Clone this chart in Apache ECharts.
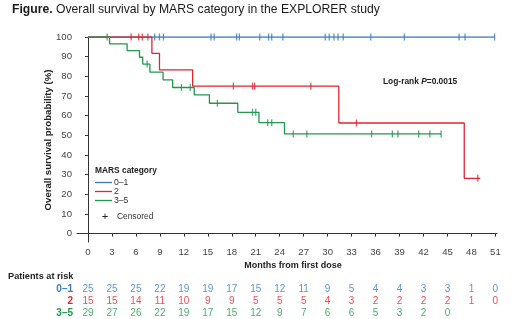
<!DOCTYPE html>
<html><head><meta charset="utf-8">
<script src="https://cdn.jsdelivr.net/npm/echarts@6/dist/echarts.min.js"></script>
<style>html,body{margin:0;padding:0;background:#fff}#c{width:520px;height:319px}</style>
</head><body><div id="c"></div>
<script>
const FONT = '"Liberation Sans", Arial, sans-serif';
const C_BLUE = '#3a7cc3', C_RED = '#e2242c', C_GREEN = '#21994c';

const groupNames = ['0–1', '2', '3–5'];
const xTicks = [0, 3, 6, 9, 12, 15, 18, 21, 24, 27, 30, 33, 36, 39, 42, 45, 48, 51];
const yTicks = [0, 10, 20, 30, 40, 50, 60, 70, 80, 90, 100];

// Kaplan–Meier curves: [month, survival %] (value after each drop)
const blueCurve = [[0, 100], [50.9, 100]];
const redCurve = [[0, 100], [8.0, 91.7], [8.95, 83.3], [13.1, 75], [31.4, 56.25], [47.1, 28.1], [49.1, 28.1]];
const greenCurve = [[0, 100], [2.7, 96.55], [4.9, 93.1], [6.45, 89.7], [6.85, 86.2], [7.75, 82.1], [9.4, 78.2],
  [10.6, 74.3], [13.3, 70.6], [15.2, 66.3], [18.75, 61.7], [21.4, 56.4], [24.6, 50.7], [44.2, 50.7]];

// Censored observations: [month, survival %]
const blueCensor = [[8.35, 100], [8.95, 100], [9.45, 100], [15.4, 100], [15.8, 100], [18.6, 100], [18.95, 100],
  [21.5, 100], [22.6, 100], [23.0, 100], [24.4, 100], [29.7, 100], [30.2, 100], [30.8, 100], [31.3, 100],
  [31.95, 100], [35.4, 100], [39.6, 100], [46.45, 100], [47.2, 100], [50.9, 100]];
const redCensor = [[5.4, 100], [6.35, 100], [6.8, 100], [7.5, 100], [18.2, 75], [20.6, 75], [20.85, 75],
  [27.9, 75], [33.6, 56.25], [48.8, 28.1]];
const greenCensor = [[2.4, 100], [7.4, 86.2], [11.7, 74.3], [12.8, 74.3], [16.2, 66.3], [20.6, 61.7], [21.0, 61.7],
  [22.5, 56.4], [23.0, 56.4], [25.7, 50.7], [27.4, 50.7], [35.5, 50.7], [38.1, 50.7], [38.8, 50.7],
  [41.4, 50.7], [42.8, 50.7], [44.2, 50.7]];

// Patients at risk at each x tick
const riskBlue = [25, 25, 25, 22, 19, 19, 17, 15, 12, 11, 9, 5, 4, 4, 3, 3, 1, 0];
const riskRed = [15, 15, 14, 11, 10, 9, 9, 5, 5, 5, 4, 3, 2, 2, 2, 2, 1, 0];
const riskGreen = [29, 27, 26, 22, 19, 17, 15, 12, 9, 7, 6, 6, 5, 3, 2, 0];

const colors = [C_BLUE, C_RED, C_GREEN];
const curves = [blueCurve, redCurve, greenCurve];
const censors = [blueCensor, redCensor, greenCensor];
const risks = [riskBlue, riskRed, riskGreen];

const X_MIN = -1.375, X_MAX = 51.2, Y_MIN = -4.3, Y_MAX = 100;

const series = [];
curves.forEach((d, i) => series.push({
  type: 'line', name: groupNames[i], xAxisIndex: 0, yAxisIndex: 0, step: 'end', data: d,
  showSymbol: false, symbol: 'none', lineStyle: { color: colors[i], width: 1.3 }, z: 2 + i, silent: true, animation: false
}));
censors.forEach((d, i) => series.push({
  type: 'scatter', xAxisIndex: 0, yAxisIndex: 0, data: d, symbol: 'rect', symbolSize: [1.3, 7],
  itemStyle: { color: colors[i] }, z: 6 + i, silent: true, animation: false
}));
risks.forEach((r, i) => series.push({
  type: 'scatter', xAxisIndex: 1, yAxisIndex: 1, data: r.map((v, k) => [xTicks[k], groupNames[i], v]),
  symbolSize: 0, silent: true, animation: false,
  label: { show: true, position: 'inside', formatter: p => String(p.value[2]), color: colors[i],
    fontFamily: FONT, fontSize: 10 }
}));

const chart = echarts.init(document.getElementById('c'), null, { renderer: 'canvas' });
chart.setOption({
  animation: false,
  backgroundColor: '#fff',
  grid: [
    { left: 77, right: 23, top: 37, height: 205, containLabel: false },
    { left: 77, right: 23, top: 283.5, height: 36, containLabel: false }
  ],
  xAxis: [
    { type: 'value', gridIndex: 0, min: X_MIN, max: X_MAX,
      axisLine: { show: true, lineStyle: { color: '#333', width: 1 } },
      axisTick: { show: true, length: 3, customValues: xTicks, lineStyle: { color: '#333' } },
      axisLabel: { customValues: xTicks, margin: 5, color: '#444', fontFamily: FONT, fontSize: 9.6 },
      splitLine: { show: false } },
    { type: 'value', gridIndex: 1, min: X_MIN, max: X_MAX, show: false }
  ],
  yAxis: [
    { type: 'value', gridIndex: 0, min: Y_MIN, max: Y_MAX,
      axisLine: { show: true, lineStyle: { color: '#333', width: 1 } },
      axisTick: { show: true, length: 3, customValues: yTicks, lineStyle: { color: '#333' } },
      axisLabel: { customValues: yTicks, margin: 5, color: '#444', fontFamily: FONT, fontSize: 9.6 },
      splitLine: { show: false } },
    { type: 'category', gridIndex: 1, inverse: true,
      data: groupNames.map((g, i) => ({ value: g, textStyle: { color: colors[i] } })),
      axisLine: { show: false }, axisTick: { show: false }, splitLine: { show: false },
      axisLabel: { interval: 0, hideOverlap: false, margin: 4, fontFamily: FONT, fontSize: 10, fontWeight: 'bold' } }
  ],
  series: series,
  graphic: [
    { type: 'text', left: 12, top: 4, style: { text: '{b|Figure.} Overall survival by MARS category in the EXPLORER study',
      fontFamily: FONT, fontSize: 12.2, fill: '#1a1a1a', rich: { b: { fontWeight: 'bold', fontFamily: FONT, fontSize: 12.2, fill: '#1a1a1a' } } } },
    { type: 'text', x: 48, y: 140, rotation: Math.PI / 2,
      style: { text: 'Overall survival probability (%)', fontFamily: FONT, fontSize: 9.6, fontWeight: 'bold',
        fill: '#222', align: 'center', verticalAlign: 'middle' } },
    { type: 'text', x: 293, y: 266, style: { text: 'Months from first dose', fontFamily: FONT, fontSize: 9,
      fontWeight: 'bold', fill: '#222', align: 'center', verticalAlign: 'middle' } },
    { type: 'text', x: 8, y: 276, style: { text: 'Patients at risk', fontFamily: FONT, fontSize: 9.2,
      fontWeight: 'bold', fill: '#222', align: 'left', verticalAlign: 'middle' } },
    { type: 'text', x: 383, y: 82, style: { text: 'Log-rank {i|P}=0.0015', fontFamily: FONT, fontSize: 8.4,
      fontWeight: 'bold', fill: '#222', verticalAlign: 'middle',
      rich: { i: { fontStyle: 'italic', fontWeight: 'bold', fontFamily: FONT, fontSize: 8.4, fill: '#222' } } } },
    { type: 'text', x: 95, y: 171, style: { text: 'MARS category', fontFamily: FONT, fontSize: 8.4,
      fontWeight: 'bold', fill: '#222', verticalAlign: 'middle' } },
    { type: 'line', shape: { x1: 95, y1: 182.5, x2: 112, y2: 182.5 }, style: { stroke: C_BLUE, lineWidth: 1.3 } },
    { type: 'line', shape: { x1: 95, y1: 191.5, x2: 112, y2: 191.5 }, style: { stroke: C_RED, lineWidth: 1.3 } },
    { type: 'line', shape: { x1: 95, y1: 200.5, x2: 112, y2: 200.5 }, style: { stroke: C_GREEN, lineWidth: 1.3 } },
    { type: 'text', x: 114, y: 182.5, style: { text: '0–1', fontFamily: FONT, fontSize: 8.6, fill: '#333', verticalAlign: 'middle' } },
    { type: 'text', x: 114, y: 191.5, style: { text: '2', fontFamily: FONT, fontSize: 8.6, fill: '#333', verticalAlign: 'middle' } },
    { type: 'text', x: 114, y: 200.5, style: { text: '3–5', fontFamily: FONT, fontSize: 8.6, fill: '#333', verticalAlign: 'middle' } },
    { type: 'text', x: 105, y: 217, style: { text: '+', fontFamily: FONT, fontSize: 11, fill: '#222', align: 'center', verticalAlign: 'middle' } },
    { type: 'text', x: 117, y: 217, style: { text: 'Censored', fontFamily: FONT, fontSize: 8.4, fill: '#333', verticalAlign: 'middle' } }
  ]
});
</script></body></html>
